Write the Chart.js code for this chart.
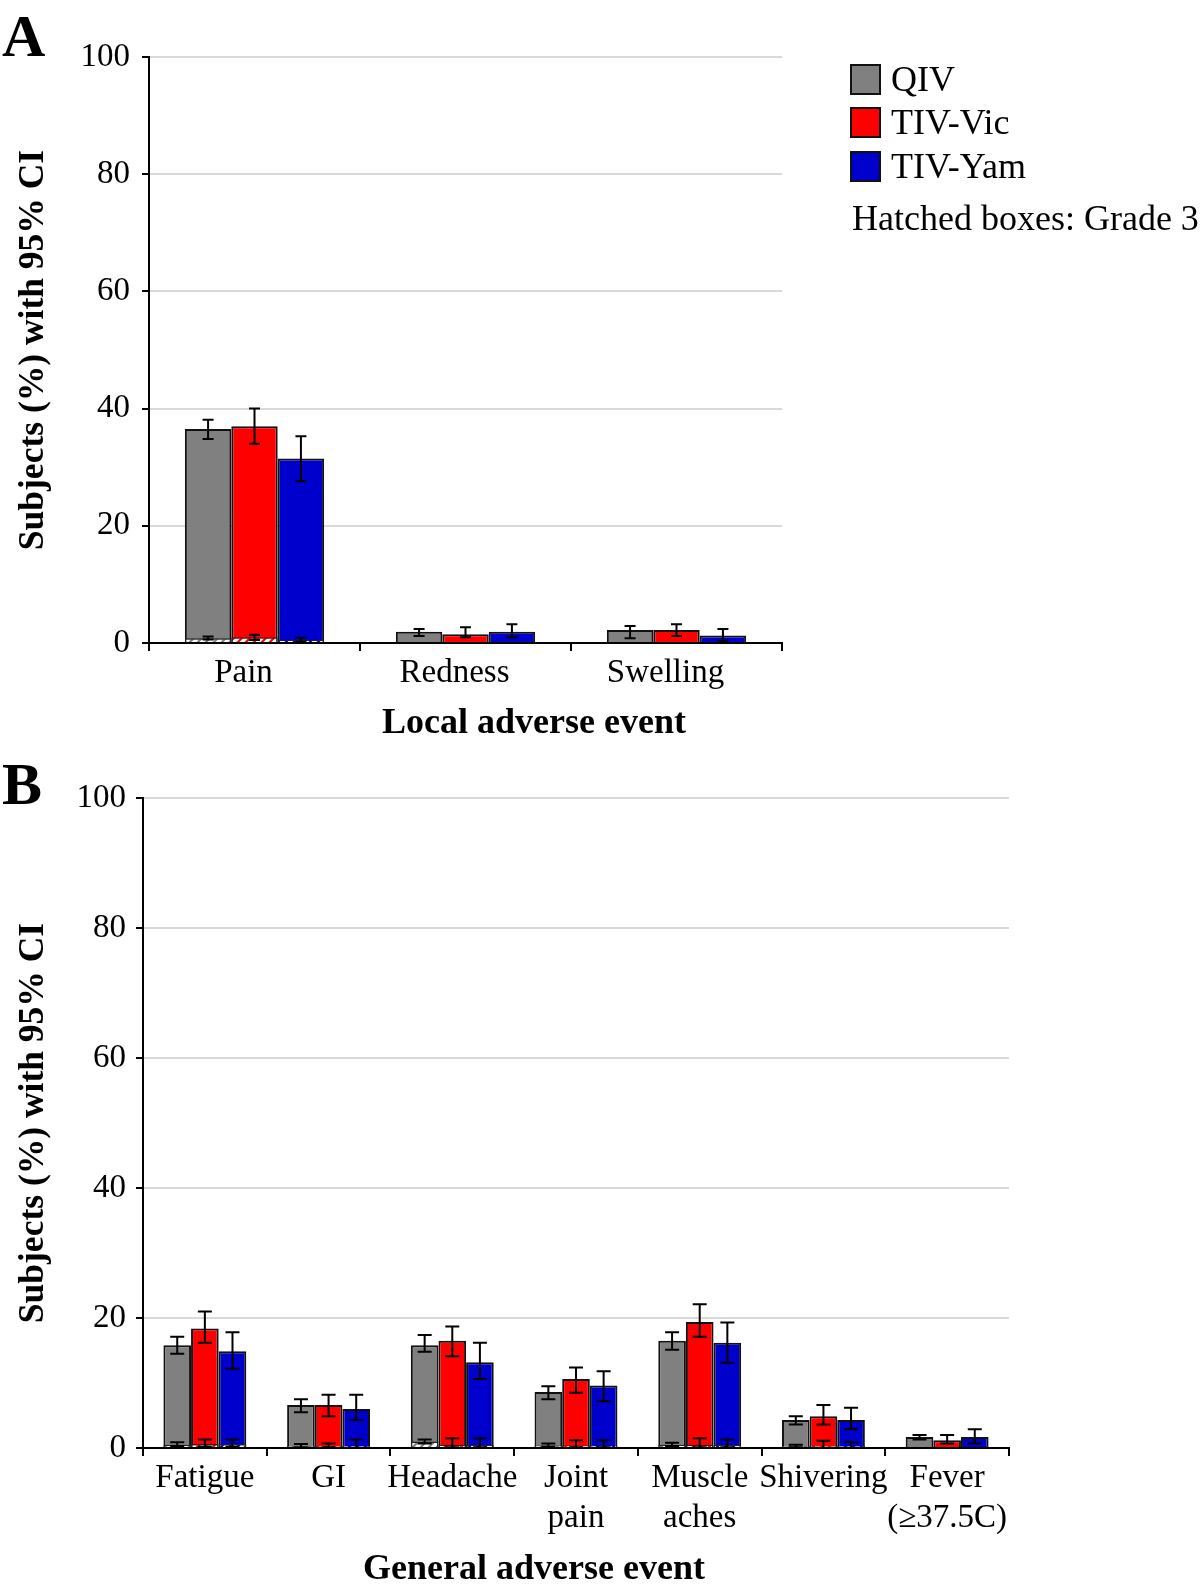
<!DOCTYPE html>
<html>
<head>
<meta charset="utf-8">
<script src="https://cdn.jsdelivr.net/npm/chart.js@4.4.1/dist/chart.umd.min.js"></script>
<style>
  body { margin: 0; background: #fff; width: 1200px; height: 1586px; position: relative; overflow: hidden;
         font-family: "Liberation Serif", "Times New Roman", serif; color: #000; }
  canvas { position: absolute; left: 0; }
  #chartA { top: 0; }
  #chartB { top: 740px; }
  .letter { position: absolute; font-weight: bold; font-size: 60px; line-height: 60px; }
  .leg { position: absolute; left: 850px; display: flex; align-items: center; font-size: 36px; line-height: 36px; }
  .leg i { display: inline-block; width: 27px; height: 27px; border: 2px solid #111; margin-right: 10px; }
  .note { position: absolute; left: 852px; top: 200px; font-size: 36px; line-height: 36px; }
  .xtitle { position: absolute; left: 0; width: 1068px; text-align: center; font-weight: bold;
            font-size: 36px; line-height: 40px; }
</style>
</head>
<body>
<canvas id="chartA" width="1200" height="740"></canvas>
<canvas id="chartB" width="1200" height="846"></canvas>
<div class="letter" style="left:2px;top:6px">A</div>
<div class="letter" style="left:2px;top:754px">B</div>
<div class="leg" style="top:61px"><i style="background:#808080"></i>QIV</div>
<div class="leg" style="top:104px"><i style="background:#ff0000"></i>TIV-Vic</div>
<div class="leg" style="top:148px"><i style="background:#0000cc"></i>TIV-Yam</div>
<div class="note">Hatched boxes: Grade 3</div>
<div class="xtitle" style="top:701px">Local adverse event</div>
<div class="xtitle" style="top:1547px">General adverse event</div>
<script>
// Panel A: local adverse events
const localCats = ["Pain", "Redness", "Swelling"];
const localQIV = [36.5, 1.9, 2.2];
const localQIVLo = [34.8, 1.2, 0.8];
const localQIVHi = [38.1, 2.4, 2.9];
const localVic = [37.0, 1.5, 2.2];
const localVicLo = [34.0, 1.0, 1.2];
const localVicHi = [40.0, 2.7, 3.2];
const localYam = [31.5, 1.9, 1.3];
const localYamLo = [27.6, 1.0, 0.4];
const localYamHi = [35.3, 3.2, 2.4];
const localQIVg3 = [0.8, 0, 0];
const localQIVg3Lo = [0.6, 0, 0];
const localQIVg3Hi = [1.1, 0, 0];
const localVicg3 = [1.0, 0, 0];
const localVicg3Lo = [0.5, 0, 0];
const localVicg3Hi = [1.4, 0, 0];
const localYamg3 = [0.5, 0, 0];
const localYamg3Lo = [0.2, 0, 0];
const localYamg3Hi = [0.9, 0, 0];

// Panel B: general adverse events
const generalCats = ["Fatigue", "GI", "Headache", ["Joint", "pain"], ["Muscle", "aches"], "Shivering", ["Fever", "(≥37.5C)"]];
const generalQIV = [15.8, 6.6, 15.8, 8.6, 16.5, 4.3, 1.7];
const generalQIVLo = [14.5, 5.5, 14.8, 7.5, 15.1, 3.6, 1.3];
const generalQIVHi = [17.1, 7.5, 17.4, 9.5, 17.8, 4.9, 2.0];
const generalVic = [18.4, 6.6, 16.5, 10.6, 19.4, 4.9, 1.2];
const generalVicLo = [16.2, 4.9, 14.1, 8.5, 17.1, 3.6, 0.7];
const generalVicHi = [21.0, 8.2, 18.7, 12.4, 22.1, 6.6, 2.0];
const generalYam = [14.9, 6.0, 13.2, 9.6, 16.2, 4.3, 1.7];
const generalYamLo = [12.2, 4.3, 10.6, 7.2, 13.1, 2.9, 0.7];
const generalYamHi = [17.8, 8.2, 16.2, 11.8, 19.3, 6.2, 2.9];
const generalQIVg3 = [0.5, 0.3, 1.0, 0.4, 0.5, 0.3, 0];
const generalQIVg3Lo = [0.3, 0.1, 0.7, 0.2, 0.3, 0.1, 0];
const generalQIVg3Hi = [0.9, 0.6, 1.3, 0.7, 0.8, 0.5, 0];
const generalVicg3 = [0.6, 0.3, 0.5, 0.4, 0.5, 0.3, 0];
const generalVicg3Lo = [0.2, 0.1, 0.1, 0.1, 0.1, 0.0, 0];
const generalVicg3Hi = [1.3, 0.7, 1.5, 1.2, 1.5, 1.1, 0];
const generalYamg3 = [0.6, 0.3, 0.5, 0.4, 0.5, 0.3, 0];
const generalYamg3Lo = [0.2, 0.0, 0.1, 0.1, 0.1, 0.0, 0];
const generalYamg3Hi = [1.3, 1.3, 1.5, 1.2, 1.3, 0.9, 0];

const yTicks = [0, 20, 40, 60, 80, 100];

const serif = "'Liberation Serif', 'Times New Roman', serif";
const gray = "#808080";
const red = "#ff0000";
const blue = "#0000cc";

function hatch(color) {
  const c = document.createElement("canvas");
  c.width = 8; c.height = 8;
  const g = c.getContext("2d");
  g.fillStyle = "#fff";
  g.fillRect(0, 0, 8, 8);
  g.strokeStyle = color;
  g.lineWidth = 2.2;
  g.beginPath();
  g.moveTo(0, 8); g.lineTo(8, 0);
  g.moveTo(-2, 2); g.lineTo(2, -2);
  g.moveTo(6, 10); g.lineTo(10, 6);
  g.stroke();
  return g.createPattern(c, "repeat");
}

const errorBars = {
  id: "errorBars",
  afterDatasetsDraw(chart) {
    const ctx = chart.ctx;
    const y = chart.scales.y;
    ctx.save();
    ctx.strokeStyle = "#000";
    ctx.lineWidth = 2;
    chart.data.datasets.forEach((ds, i) => {
      if (!ds.errLo) return;
      const meta = chart.getDatasetMeta(i);
      meta.data.forEach((bar, j) => {
        const lo = ds.errLo[j], hi = ds.errHi[j];
        if (hi === lo) return;
        const y1 = y.getPixelForValue(lo), y2 = y.getPixelForValue(hi);
        const w = ds.capW;
        ctx.beginPath();
        ctx.moveTo(bar.x, y1); ctx.lineTo(bar.x, y2);
        ctx.moveTo(bar.x - w / 2, y1); ctx.lineTo(bar.x + w / 2, y1);
        ctx.moveTo(bar.x - w / 2, y2); ctx.lineTo(bar.x + w / 2, y2);
        ctx.stroke();
      });
    });
    ctx.restore();
  },
};

function series(name, color, v, lo, hi, g, glo, ghi, capW) {
  return [
    { label: name + " grade 3", stack: name, order: 0, data: g, backgroundColor: hatch(color),
      borderColor: "#222", borderWidth: 1.5, errLo: glo, errHi: ghi, capW },
    { label: name, stack: name, order: 1, data: v, backgroundColor: color,
      borderColor: "#111", borderWidth: 2, errLo: lo, errHi: hi, capW },
  ];
}

function makeChart(id, labels, datasets, o) {
  return new Chart(document.getElementById(id), {
    type: "bar",
    data: { labels, datasets },
    options: {
      responsive: false,
      animation: false,
      events: [],
      categoryPercentage: o.catPct,
      barPercentage: 1.0,
      layout: { padding: { top: o.top, right: o.right, bottom: 0, left: 0 } },
      plugins: { legend: { display: false }, tooltip: { enabled: false } },
      scales: {
        x: {
          stacked: true,
          offset: true,
          grid: { offset: true, drawOnChartArea: false, tickColor: "#000", tickLength: 8, lineWidth: 2 },
          border: { color: "#000", width: 2 },
          ticks: { color: "#000", font: { family: serif, size: 33 }, padding: 3, labelOffset: o.labelOffset,
                   maxRotation: 0, autoSkip: false },
          afterFit(s) { s.height = o.xH; },
        },
        y: {
          stacked: false,
          min: 0,
          max: 100,
          afterBuildTicks(s) { s.ticks = yTicks.map(v => ({ value: v })); },
          grid: { color: "#d9d9d9", lineWidth: 2, tickColor: "#000", tickLength: 7 },
          border: { color: "#000", width: 2 },
          ticks: { color: "#000", font: { family: serif, size: 33 }, padding: o.tickPad },
          title: { display: true, text: "Subjects (%) with 95% CI", color: "#000", padding: { top: 13, bottom: 0 },
                   font: { family: serif, size: 35.5, weight: "bold" } },
          afterFit(s) { s.width = o.yW; },
        },
      },
    },
    plugins: [errorBars],
  });
}

makeChart("chartA", localCats, [
  ...series("QIV", gray, localQIV, localQIVLo, localQIVHi, localQIVg3, localQIVg3Lo, localQIVg3Hi, 11),
  ...series("TIV-Vic", red, localVic, localVicLo, localVicHi, localVicg3, localVicg3Lo, localVicg3Hi, 11),
  ...series("TIV-Yam", blue, localYam, localYamLo, localYamHi, localYamg3, localYamg3Lo, localYamg3Hi, 11),
], { catPct: 0.66, top: 57, right: 418, xH: 97, yW: 149, tickPad: 12, labelOffset: -11 });

makeChart("chartB", generalCats, [
  ...series("QIV", gray, generalQIV, generalQIVLo, generalQIVHi, generalQIVg3, generalQIVg3Lo, generalQIVg3Hi, 14),
  ...series("TIV-Vic", red, generalVic, generalVicLo, generalVicHi, generalVicg3, generalVicg3Lo, generalVicg3Hi, 14),
  ...series("TIV-Yam", blue, generalYam, generalYamLo, generalYamHi, generalYamg3, generalYamg3Lo, generalYamg3Hi, 14),
], { catPct: 0.67, top: 58, right: 191, xH: 138, yW: 143, tickPad: 10, labelOffset: 0 });
</script>
</body>
</html>
